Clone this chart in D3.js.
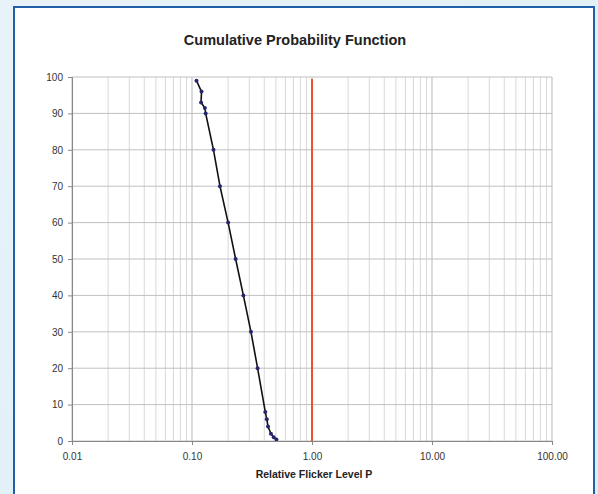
<!DOCTYPE html>
<html>
<head>
<meta charset="utf-8">
<script src="https://cdn.jsdelivr.net/npm/d3@7"></script>
<style>
  body { margin: 0; background: #e3f0f7; }
  svg { display: block; font-family: Arial, "Liberation Sans", sans-serif; }
</style>
</head>
<body>
<div class="canvas"></div>
<script>
// measured points (relative flicker level P, cumulative %)
const flicker = [0.109, 0.120, 0.119, 0.128, 0.130, 0.151, 0.171, 0.200, 0.231, 0.268, 0.310, 0.352, 0.408, 0.420, 0.430, 0.455, 0.480, 0.505];
const cumPct  = [99, 96, 93, 91.5, 90, 80, 70, 60, 50, 40, 30, 20, 8, 6, 4, 2, 1, 0.4];
const xTicks = [0.01, 0.1, 1, 10, 100];
const yTicks = [0, 10, 20, 30, 40, 50, 60, 70, 80, 90, 100];
const limitP = 1;

const dims = { width: 598, height: 494 };
const plot = { left: 72, right: 552, top: 77, bottom: 441 };

const svg = d3.select('.canvas')
  .append('svg')
  .attr('width', dims.width)
  .attr('height', dims.height);

// background + panel
const bg = svg.append('defs').append('linearGradient')
  .attr('id', 'bg').attr('x1', 0).attr('y1', 0).attr('x2', 1).attr('y2', 1);
bg.append('stop').attr('offset', '0%').attr('stop-color', '#e8f3f9');
bg.append('stop').attr('offset', '100%').attr('stop-color', '#dcedf6');
svg.append('rect').attr('width', dims.width).attr('height', dims.height).attr('fill', 'url(#bg)');
svg.append('rect')
  .attr('x', 14).attr('y', 7).attr('width', 580).attr('height', 500)
  .attr('fill', '#fff').attr('stroke', '#2060a8').attr('stroke-width', 2);

const x = d3.scaleLog().domain([0.01, 100]).range([plot.left, plot.right]);
const y = d3.scaleLinear().domain([0, 100]).range([plot.bottom, plot.top]);

const graph = svg.append('g');

// minor vertical grid
const minor = [];
xTicks.slice(0, -1).forEach(d => { for (let k = 2; k <= 9; k++) minor.push(d * k); });
graph.selectAll('.vminor').data(minor).enter().append('line')
  .attr('x1', d => x(d)).attr('x2', d => x(d))
  .attr('y1', plot.top).attr('y2', plot.bottom)
  .attr('stroke', '#d8d8d8').attr('stroke-width', 1);

graph.selectAll('.vmajor').data(xTicks).enter().append('line')
  .attr('x1', d => x(d)).attr('x2', d => x(d))
  .attr('y1', plot.top).attr('y2', plot.bottom)
  .attr('stroke', '#b8b8b8').attr('stroke-width', 1);

graph.selectAll('.hgrid').data(yTicks).enter().append('line')
  .attr('x1', plot.left).attr('x2', plot.right)
  .attr('y1', d => y(d)).attr('y2', d => y(d))
  .attr('stroke', '#c0c0c0').attr('stroke-width', 1);

// axes
const xAxis = d3.axisBottom(x).tickValues(xTicks).tickFormat(d3.format('.2f')).tickSize(4).tickPadding(8);
const yAxis = d3.axisLeft(y).tickValues(yTicks).tickSize(4).tickPadding(5);

const gx = svg.append('g').attr('transform', `translate(0,${plot.bottom})`).call(xAxis);
const gy = svg.append('g').attr('transform', `translate(${plot.left},0)`).call(yAxis);
[gx, gy].forEach(g => {
  g.select('.domain').attr('stroke', '#888');
  g.selectAll('.tick line').attr('stroke', '#888');
  g.selectAll('text').attr('fill', '#333').style('font-size', '10px').style('font-family', 'Arial, "Liberation Sans", sans-serif');
});

// limit line at P = 1
graph.append('line')
  .attr('x1', x(limitP)).attr('x2', x(limitP))
  .attr('y1', y(100) + 2).attr('y2', y(0))
  .attr('stroke', '#e8532c').attr('stroke-width', 2);

// data line + markers
const data = flicker.map((p, i) => ({ p, c: cumPct[i] }));
const line = d3.line().x(d => x(d.p)).y(d => y(d.c));
graph.append('path').datum(data)
  .attr('d', line).attr('fill', 'none')
  .attr('stroke', '#111').attr('stroke-width', 1.6);

graph.selectAll('.pt').data(data).enter().append('circle')
  .attr('cx', d => x(d.p)).attr('cy', d => y(d.c)).attr('r', 2)
  .attr('fill', '#26266e');

// titles
svg.append('text').attr('x', 295).attr('y', 45).attr('text-anchor', 'middle')
  .style('font-size', '14.5px').style('font-weight', 'bold').attr('fill', '#222')
  .text('Cumulative Probability Function');
svg.append('text').attr('x', 314).attr('y', 478).attr('text-anchor', 'middle')
  .style('font-size', '10.5px').style('font-weight', 'bold').attr('fill', '#222')
  .text('Relative Flicker Level P');
</script>
</body>
</html>
